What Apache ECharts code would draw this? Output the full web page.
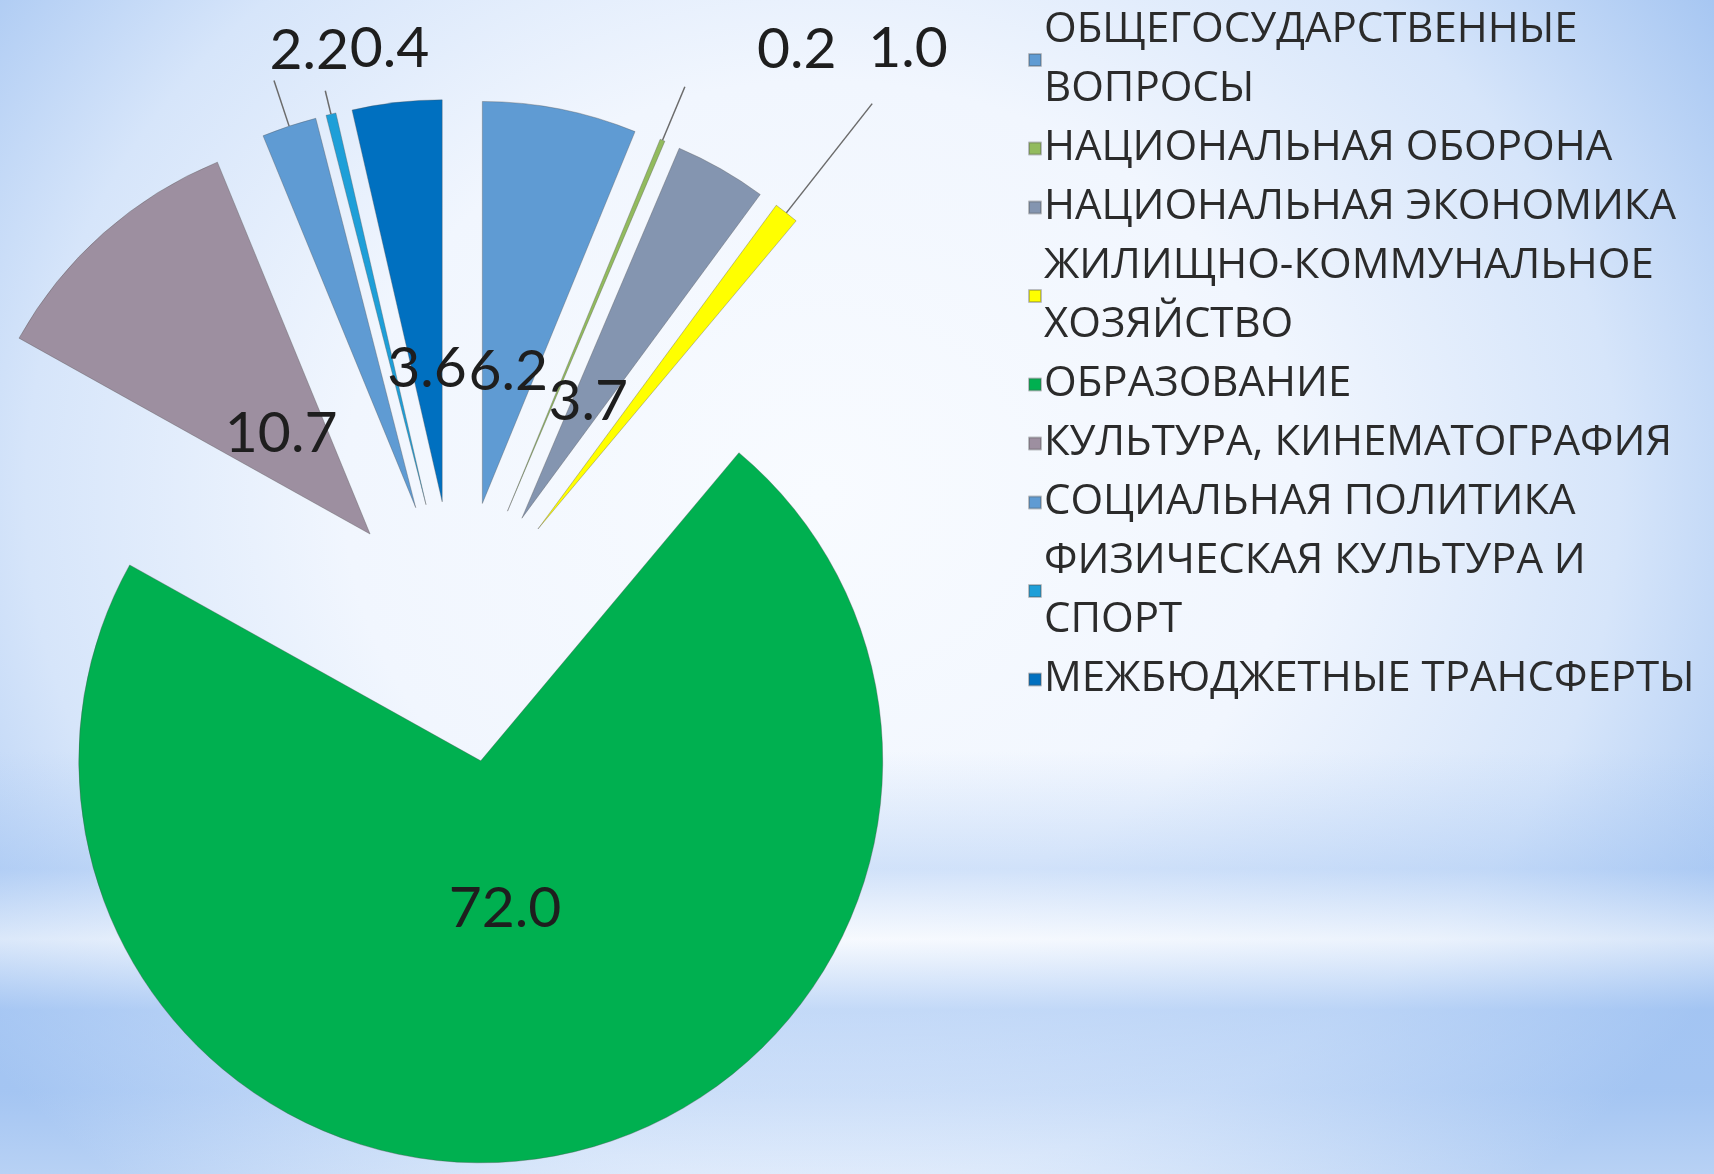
<!DOCTYPE html>
<html>
<head>
<meta charset="utf-8">
<script src="https://cdn.jsdelivr.net/npm/echarts@6/dist/echarts.min.js"></script>
<style>
html,body{margin:0;padding:0;width:1714px;height:1174px;overflow:hidden;}
body{
  background:
    linear-gradient(to bottom,
      rgba(255,255,255,0) 0%, rgba(255,255,255,0) 64%,
      rgba(160,195,243,0.4) 74%, rgba(255,255,255,0.5) 80%,
      rgba(160,195,243,0.5) 86%, rgba(160,195,243,0.3) 93%,
      rgba(255,255,255,0.2) 100%),
    radial-gradient(ellipse 62% 78% at 48% 42%, #f8fbff 0%, #f1f6fe 45%, #d6e5fa 75%, #a6c6f2 100%);
}
#chart{width:1714px;height:1174px;}
</style>
</head>
<body>
<div id="chart"></div>
<script>
// ---- data ----
const categories = [
  'ОБЩЕГОСУДАРСТВЕННЫЕ ВОПРОСЫ',
  'НАЦИОНАЛЬНАЯ ОБОРОНА',
  'НАЦИОНАЛЬНАЯ ЭКОНОМИКА',
  'ЖИЛИЩНО-КОММУНАЛЬНОЕ ХОЗЯЙСТВО',
  'ОБРАЗОВАНИЕ',
  'КУЛЬТУРА, КИНЕМАТОГРАФИЯ',
  'СОЦИАЛЬНАЯ ПОЛИТИКА',
  'ФИЗИЧЕСКАЯ КУЛЬТУРА И СПОРТ',
  'МЕЖБЮДЖЕТНЫЕ ТРАНСФЕРТЫ'
];
const values = [6.2, 0.2, 3.7, 1.0, 72.0, 10.7, 2.2, 0.4, 3.6];
const legendLabels = [
  'ОБЩЕГОСУДАРСТВЕННЫЕ\nВОПРОСЫ',
  'НАЦИОНАЛЬНАЯ ОБОРОНА',
  'НАЦИОНАЛЬНАЯ ЭКОНОМИКА',
  'ЖИЛИЩНО-КОММУНАЛЬНОЕ\nХОЗЯЙСТВО',
  'ОБРАЗОВАНИЕ',
  'КУЛЬТУРА, КИНЕМАТОГРАФИЯ',
  'СОЦИАЛЬНАЯ ПОЛИТИКА',
  'ФИЗИЧЕСКАЯ КУЛЬТУРА И\nСПОРТ',
  'МЕЖБЮДЖЕТНЫЕ ТРАНСФЕРТЫ'
];
const colors = ['#5f9bd3', '#92bb5e', '#8495b0', '#ffff00', '#00b050', '#9d8fa0', '#5f9bd3', '#1e9fd8', '#0070c0'];
// which labels sit outside with leader lines
const outsideLabel = [false, true, false, true, false, false, true, true, false];

// ---- layout / style (not data) ----
const CENTER = [457, 632];
const RADIUS = 402;
const OFFSET = 131;
const LABEL_FONT = 'Lato, "Open Sans", sans-serif';
// leader line lengths for the outside labels
const LINE_LEN = {1: 58, 3: 139, 6: 48, 7: 24};
// nudges so the outside labels line up along the top like the original
const LABEL_NUDGE = {1: [67, -37], 3: [-9, -55], 6: [80, -30], 7: [109, -42]};
const INNER_NUDGE = {4: [0, 16]};

const chart = echarts.init(document.getElementById('chart'), null, {renderer: 'canvas'});

const mainData = categories.map((n, i) => ({
  name: n,
  value: values[i],
  selected: true,
  itemStyle: {color: colors[i]},
  label: {show: outsideLabel[i]},
  labelLine: outsideLabel[i] ? {show: true, length: LINE_LEN[i]} : {show: false}
}));
const labelData = categories.map((n, i) => ({
  name: n,
  value: values[i],
  selected: true,
  label: {show: !outsideLabel[i]}
}));

chart.setOption({
  animation: false,
  legend: {
    orient: 'vertical',
    left: 1023,
    top: -4,
    itemGap: 0,
    itemWidth: 12,
    itemHeight: 12,
    icon: 'rect',
    selectedMode: false,
    data: categories,
    formatter: function (name) { return legendLabels[categories.indexOf(name)]; },
    textStyle: {
      fontFamily: '"Open Sans", sans-serif',
      fontSize: 42,
      lineHeight: 59,
      color: '#2b2b2b',
      padding: [0, 0, 0, -2]
    }
  },
  series: [
    {
      type: 'pie',
      center: CENTER,
      radius: RADIUS,
      startAngle: 90,
      clockwise: true,
      selectedMode: 'multiple',
      selectedOffset: OFFSET,
      avoidLabelOverlap: false,
      silent: true,
      itemStyle: {borderColor: 'rgba(80,80,80,0.35)', borderWidth: 1},
      emphasis: {disabled: true},
      label: {
        position: 'outside',
        formatter: p => p.value.toFixed(1),
        fontFamily: LABEL_FONT,
        fontSize: 57,
        color: '#1e1e1e'
      },
      labelLine: {
        length: 48,
        length2: 0,
        lineStyle: {color: '#6b6b6b', width: 1.5}
      },
      labelLayout: function (p) {
        const n = LABEL_NUDGE[p.dataIndex];
        return n ? {dx: n[0], dy: n[1], hideOverlap: false} : {hideOverlap: false};
      },
      data: mainData
    },
    {
      type: 'pie',
      center: CENTER,
      radius: 262,
      startAngle: 90,
      clockwise: true,
      selectedMode: 'multiple',
      selectedOffset: OFFSET,
      avoidLabelOverlap: false,
      silent: true,
      itemStyle: {color: 'rgba(0,0,0,0)'},
      emphasis: {disabled: true},
      label: {
        position: 'inside',
        formatter: p => p.value.toFixed(1),
        fontFamily: LABEL_FONT,
        fontSize: 57,
        color: '#1e1e1e'
      },
      labelLine: {show: false},
      labelLayout: function (p) {
        const n = INNER_NUDGE[p.dataIndex];
        return n ? {dx: n[0], dy: n[1], hideOverlap: false} : {hideOverlap: false};
      },
      data: labelData
    }
  ]
});
</script>
</body>
</html>
